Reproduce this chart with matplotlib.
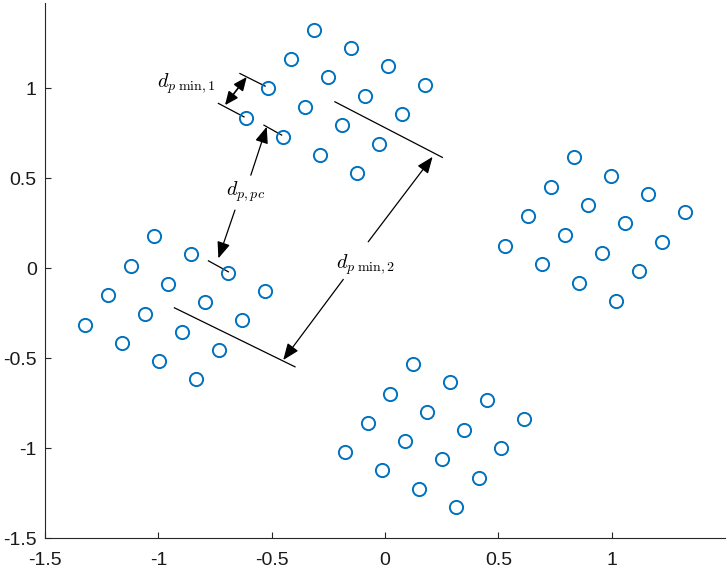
import matplotlib
matplotlib.use("Agg")
import matplotlib.pyplot as plt

# ---- data: point coordinates of the four 4x4 clusters ----
c1_x = [-0.314, -0.150, 0.013, 0.176, -0.415, -0.250, -0.087, 0.076,
        -0.515, -0.352, -0.189, -0.025, -0.615, -0.452, -0.288, -0.125]
c1_y = [1.326, 1.224, 1.124, 1.022, 1.163, 1.061, 0.959, 0.857,
        1.000, 0.898, 0.796, 0.694, 0.835, 0.733, 0.632, 0.532]
c2_x = [-1.020, -0.858, -0.693, -0.530, -1.122, -0.958, -0.795, -0.632,
        -1.223, -1.060, -0.896, -0.733, -1.325, -1.161, -0.997, -0.835]
c2_y = [0.180, 0.078, -0.024, -0.126, 0.015, -0.087, -0.189, -0.289,
        -0.150, -0.252, -0.352, -0.454, -0.313, -0.415, -0.517, -0.617]
c3_x = [0.833, 0.996, 1.160, 1.323, 0.731, 0.895, 1.058, 1.221,
        0.630, 0.793, 0.957, 1.120, 0.528, 0.693, 0.855, 1.018]
c3_y = [0.617, 0.515, 0.413, 0.313, 0.452, 0.350, 0.250, 0.148,
        0.289, 0.187, 0.085, -0.015, 0.124, 0.022, -0.079, -0.179]
c4_x = [0.125, 0.287, 0.450, 0.615, 0.023, 0.187, 0.350, 0.513,
        -0.077, 0.087, 0.250, 0.414, -0.178, -0.015, 0.149, 0.312]
c4_y = [-0.531, -0.633, -0.733, -0.835, -0.696, -0.796, -0.896, -0.998,
        -0.859, -0.959, -1.061, -1.163, -1.022, -1.122, -1.224, -1.326]

x_ticks = [-1.5, -1, -0.5, 0, 0.5, 1]
x_tick_labels = ["-1.5", "-1", "-0.5", "0", "0.5", "1"]
y_ticks = [-1.5, -1, -0.5, 0, 0.5, 1]
y_tick_labels = ["-1.5", "-1", "-0.5", "0", "0.5", "1"]

label_min1 = r"$d_{p\;\mathrm{min},1}$"
label_pc = r"$d_{p,pc}$"
label_min2 = r"$d_{p\;\mathrm{min},2}$"

plt.rcParams["mathtext.fontset"] = "cm"
plt.rcParams["font.family"] = ["Liberation Sans", "DejaVu Sans"]

W, H = 727, 572
fig = plt.figure(figsize=(W / 100, H / 100), dpi=100)
ax = fig.add_axes([45 / W, (H - 538.3) / H, 680 / W, (538.3 - 3) / H])

blue = "#0072BD"
for xs, ys in [(c1_x, c1_y), (c2_x, c2_y), (c3_x, c3_y), (c4_x, c4_y)]:
    ax.plot(xs, ys, "o", mfc="none", mec=blue, ms=9.5, mew=1.4, zorder=3)

ax.set_xlim(-1.5, 1.5)
ax.set_ylim(-1.5, 1.475)
ax.set_xticks(x_ticks)
ax.set_xticklabels(x_tick_labels)
ax.set_yticks(y_ticks)
ax.set_yticklabels(y_tick_labels)
for s in ["top", "right"]:
    ax.spines[s].set_visible(False)
axc = "#262626"
for s in ["left", "bottom"]:
    ax.spines[s].set_color(axc)
    ax.spines[s].set_linewidth(0.8)
ax.tick_params(direction="in", length=4, width=0.8, colors=axc,
               labelsize=14, labelcolor="#1a1a1a")
ax.tick_params(axis="x", pad=10)
ax.tick_params(axis="y", pad=6)

lk = dict(color="black", lw=0.9, zorder=2)
# extension lines
ax.plot([-0.640, -0.529], [1.083, 1.013], **lk)
ax.plot([-0.735, -0.622], [0.917, 0.842], **lk)
ax.plot([-0.534, -0.456], [0.796, 0.741], **lk)
ax.plot([-0.779, -0.691], [0.042, -0.019], **lk)
ax.plot([-0.221, 0.253], [0.926, 0.617], **lk)
ax.plot([-0.929, -0.397], [-0.219, -0.547], **lk)

ap = dict(arrowstyle="-|>,head_length=1.0,head_width=0.4", color="black",
          lw=0.9, shrinkA=0, shrinkB=0, mutation_scale=10)
ap2 = dict(ap, arrowstyle="<|-|>,head_length=0.8,head_width=0.35", lw=1.2)

# d_p min,1 double arrow
ax.annotate("", xy=(-0.706, 0.907), xytext=(-0.610, 1.064), arrowprops=ap2)
ax.text(-0.878, 1.029, label_min1, fontsize=14.5, ha="center", va="center")

# d_p,pc arrows
ax.annotate("", xy=(-0.522, 0.787), xytext=(-0.592, 0.518), arrowprops=ap)
ax.annotate("", xy=(-0.735, 0.056), xytext=(-0.662, 0.324), arrowprops=ap)
ax.text(-0.615, 0.424, label_pc, fontsize=14.5, ha="center", va="center")

# d_p min,2 arrows
ax.annotate("", xy=(0.210, 0.620), xytext=(-0.074, 0.148), arrowprops=ap)
ax.annotate("", xy=(-0.449, -0.509), xytext=(-0.184, -0.061), arrowprops=ap)
ax.text(-0.086, 0.018, label_min2, fontsize=14.5, ha="center", va="center")

fig.savefig("out.png", dpi=100)
